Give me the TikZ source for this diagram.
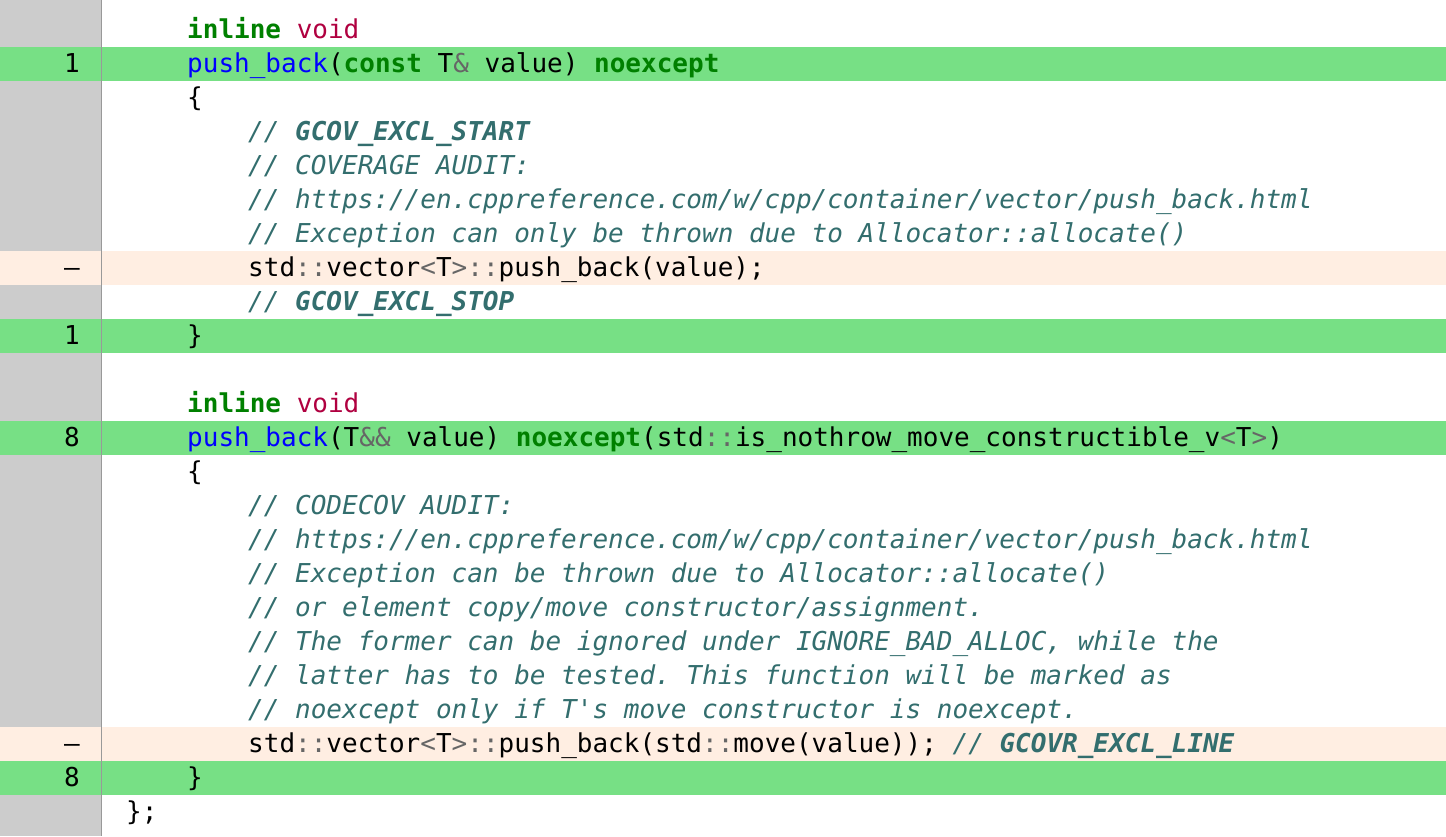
\documentclass[tikz,border=0pt]{standalone}
\usepackage{fontspec}
\setmonofont{DejaVu Sans Mono}
\definecolor{hlgreen}{HTML}{77E085}
\definecolor{hlpink}{HTML}{FFEEE2}
\definecolor{gut}{HTML}{CCCCCC}
\definecolor{gutline}{HTML}{999999}
\definecolor{kwc}{HTML}{008000}
\definecolor{tyc}{HTML}{B00040}
\definecolor{fnc}{HTML}{0000FF}
\definecolor{opc}{HTML}{666666}
\definecolor{cmc}{HTML}{336E6E}
\newcommand{\kw}[1]{\textcolor{kwc}{\bfseries #1}}
\newcommand{\ty}[1]{\textcolor{tyc}{#1}}
\newcommand{\fn}[1]{\textcolor{fnc}{#1}}
\newcommand{\op}[1]{\textcolor{opc}{#1}}
\newcommand{\cm}[1]{\textcolor{cmc}{\itshape #1}}
\newcommand{\cmb}[1]{\textcolor{cmc}{\bfseries\itshape #1}}
\begin{document}
\begin{tikzpicture}[x=1pt,y=-1pt,
  code/.style={anchor=base west,inner sep=0pt,font=\ttfamily\fontsize{26}{30}\selectfont},
  num/.style={anchor=base,inner sep=0pt,font=\ttfamily\fontsize{26}{30}\selectfont}]
\useasboundingbox (0,0) rectangle (1446,836);
\fill[white] (0,0) rectangle (1446,836);
\fill[gut] (0,0) rectangle (101,836);
\foreach \k in {1,9,12,22} \fill[hlgreen] (0,13+34*\k) rectangle (1446,47+34*\k);
\foreach \k in {7,21} \fill[hlpink] (0,13+34*\k) rectangle (1446,47+34*\k);
\draw[gutline,line width=1.5pt] (101.5,0) -- (101.5,836);
\node[num] (n1) at (72,64+8) {1};
\node[num] (n7) at (72,268+8) {–};
\node[num] (n9) at (72,336+8) {1};
\node[num] (n12) at (72,438+8) {8};
\node[num] (n21) at (72,744+8) {–};
\node[num] (n22) at (72,778+8) {8};
\def\A{187}\def\B{248}
\node[code] (r0) at (\A,30+8) {\kw{inline} \ty{void}};
\node[code] (r1) at (\A,64+8) {\fn{push\_back}(\kw{const} T\op{\&} value) \kw{noexcept}};
\node[code] (r2) at (\A,98+8) {\{};
\node[code] (r3) at (\B,132+8) {\cm{// }\cmb{GCOV\_EXCL\_START}};
\node[code] (r4) at (\B,166+8) {\cm{// COVERAGE AUDIT:}};
\node[code] (r5) at (\B,200+8) {\cm{// https://en.cppreference.com/w/cpp/container/vector/push\_back.html}};
\node[code] (r6) at (\B,234+8) {\cm{// Exception can only be thrown due to Allocator::allocate()}};
\node[code] (r7) at (\B,268+8) {std\op{::}vector\op{<}T\op{>}\op{::}push\_back(value);};
\node[code] (r8) at (\B,302+8) {\cm{// }\cmb{GCOV\_EXCL\_STOP}};
\node[code] (r9) at (\A,336+8) {\}};
\node[code] (r11) at (\A,404+8) {\kw{inline} \ty{void}};
\node[code] (r12) at (\A,438+8) {\fn{push\_back}(T\op{\&\&} value) \kw{noexcept}(std\op{::}is\_nothrow\_move\_constructible\_v\op{<}T\op{>})};
\node[code] (r13) at (\A,472+8) {\{};
\node[code] (r14) at (\B,506+8) {\cm{// CODECOV AUDIT:}};
\node[code] (r15) at (\B,540+8) {\cm{// https://en.cppreference.com/w/cpp/container/vector/push\_back.html}};
\node[code] (r16) at (\B,574+8) {\cm{// Exception can be thrown due to Allocator::allocate()}};
\node[code] (r17) at (\B,608+8) {\cm{// or element copy/move constructor/assignment.}};
\node[code] (r18) at (\B,642+8) {\cm{// The former can be ignored under IGNORE\_BAD\_ALLOC, while the}};
\node[code] (r19) at (\B,676+8) {\cm{// latter has to be tested. This function will be marked as}};
\node[code] (r20) at (\B,710+8) {\cm{// noexcept only if T's move constructor is noexcept.}};
\node[code] (r21) at (\B,744+8) {std\op{::}vector\op{<}T\op{>}\op{::}push\_back(std\op{::}move(value)); \cm{// }\cmb{GCOVR\_EXCL\_LINE}};
\node[code] (r22) at (\A,778+8) {\}};
\node[code] (r23) at (126,812+8) {\};};
\end{tikzpicture}
\end{document}
